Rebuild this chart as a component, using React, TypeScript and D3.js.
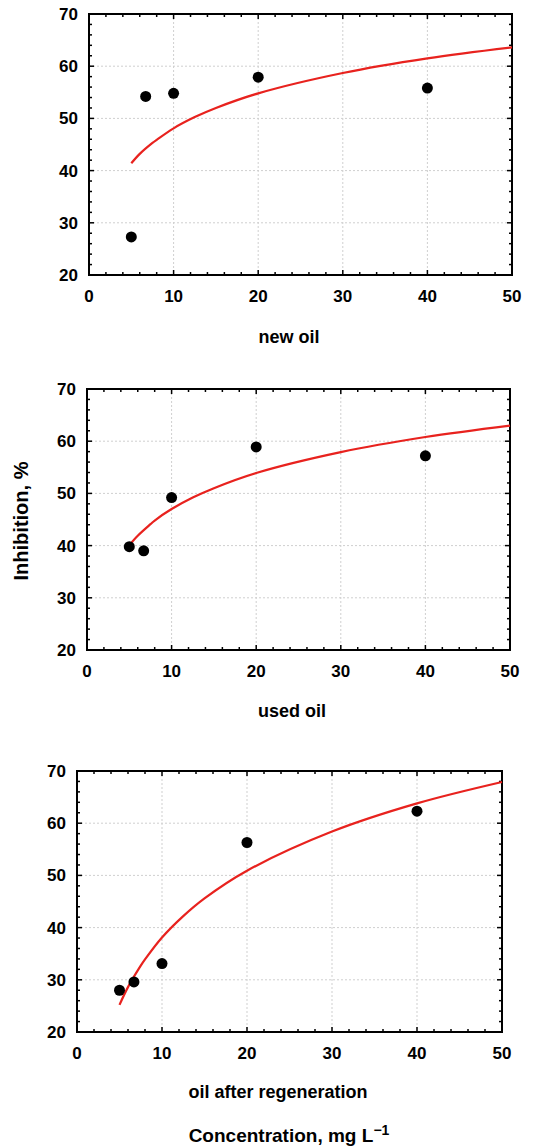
import React from "react";
import * as d3 from "d3";

// measured points, x = concentration (mg/L), y = inhibition (%)
const concentrations = [5, 6.7, 10, 20, 40];
const newOil = [27.3, 54.2, 54.8, 57.9, 55.8];
const usedOil = [39.8, 39.0, 49.2, 58.9, 57.2];
const regenOil = [28.0, 29.6, 33.1, 56.3, 62.3];

// fitted curve
const fitX = [5, 6, 7.5, 8, 10, 12.5, 15, 20, 30, 40, 50];
const newOilFit = [41.4, 43.2, 45.3, 45.9, 48.1, 50.25, 52.0, 54.8, 58.7, 61.5, 63.6];
const usedOilFit = [40.1, 41.9, 44.1, 44.8, 47.0, 49.2, 51.0, 53.9, 57.9, 60.8, 63.0];
const regenOilFit = [25.2, 28.6, 32.7, 33.9, 38.1, 42.2, 45.6, 50.9, 58.4, 63.8, 67.9];

const xTicks = [0, 10, 20, 30, 40, 50];
const yTicks = [20, 30, 40, 50, 60, 70];

const panels = [
  { label: "new oil", points: newOil, fit: newOilFit, box: [89, 14, 512, 275], labelX: 289, labelY: 343 },
  { label: "used oil", points: usedOil, fit: usedOilFit, box: [87, 389, 510, 650], labelX: 292, labelY: 717 },
  { label: "oil after regeneration", points: regenOil, fit: regenOilFit, box: [77, 771, 502, 1032], labelX: 278, labelY: 1098 },
];

const font = "'Liberation Sans', Arial, sans-serif";

const Panel = ({ p }) => {
  const [x0, y0, x1, y1] = p.box;
  const x = d3.scaleLinear().domain([0, 50]).range([x0, x1]);
  const y = d3.scaleLinear().domain([20, 70]).range([y1, y0]);
  const line = d3
    .line<number>()
    .x((_, i) => x(fitX[i]))
    .y((d) => y(d))
    .curve(d3.curveCatmullRom.alpha(0.5));

  const minorX = d3.range(0, 51, 2);
  const minorY = d3.range(20, 71, 2);

  return (
    <g>
      {/* grid */}
      {xTicks.slice(1, -1).map((t) => (
        <line key={"gx" + t} x1={x(t)} x2={x(t)} y1={y0} y2={y1} stroke="#cfcfcf" strokeDasharray="2,2" />
      ))}
      {yTicks.slice(1, -1).map((t) => (
        <line key={"gy" + t} x1={x0} x2={x1} y1={y(t)} y2={y(t)} stroke="#cfcfcf" strokeDasharray="2,2" />
      ))}

      {/* inward ticks on all sides */}
      {minorX.map((t) => {
        const len = t % 10 === 0 ? 5 : 3;
        return (
          <g key={"tx" + t}>
            <line x1={x(t)} x2={x(t)} y1={y1} y2={y1 - len} stroke="#000" strokeWidth={1.5} />
            <line x1={x(t)} x2={x(t)} y1={y0} y2={y0 + len} stroke="#000" strokeWidth={1.5} />
          </g>
        );
      })}
      {minorY.map((t) => {
        const len = t % 10 === 0 ? 5 : 3;
        return (
          <g key={"ty" + t}>
            <line x1={x0} x2={x0 + len} y1={y(t)} y2={y(t)} stroke="#000" strokeWidth={1.5} />
            <line x1={x1} x2={x1 - len} y1={y(t)} y2={y(t)} stroke="#000" strokeWidth={1.5} />
          </g>
        );
      })}

      <rect x={x0} y={y0} width={x1 - x0} height={y1 - y0} fill="none" stroke="#000" strokeWidth={2} />

      {xTicks.map((t) => (
        <text key={"lx" + t} x={x(t)} y={y1 + 27} textAnchor="middle" fontSize={17} fontWeight="bold" fontFamily={font}>
          {t}
        </text>
      ))}
      {yTicks.map((t) => (
        <text key={"ly" + t} x={x0 - 11} y={y(t) + 6} textAnchor="end" fontSize={17} fontWeight="bold" fontFamily={font}>
          {t}
        </text>
      ))}

      <path d={line(p.fit) || ""} fill="none" stroke="#e8221e" strokeWidth={2.2} />

      {p.points.map((v, i) => (
        <circle key={"pt" + i} cx={x(concentrations[i])} cy={y(v)} r={5.5} fill="#000" />
      ))}

      <text x={p.labelX} y={p.labelY} textAnchor="middle" fontSize={18} fontWeight="bold" fontFamily={font}>
        {p.label}
      </text>
    </g>
  );
};

export default function App() {
  return (
    <svg
      width={533}
      height={1146}
      style={{ position: "absolute", left: 0, top: 0, background: "#fff" }}
    >
      {panels.map((p) => (
        <Panel key={p.label} p={p} />
      ))}
      <text transform="translate(28,521) rotate(-90)" textAnchor="middle" fontSize={20} fontWeight="bold" fontFamily={font}>
        Inhibition, %
      </text>
      <text x={289} y={1142} textAnchor="middle" fontSize={19} fontWeight="bold" fontFamily={font}>
        Concentration, mg L
        <tspan dy={-7} fontSize={14}>−1</tspan>
      </text>
    </svg>
  );
}
